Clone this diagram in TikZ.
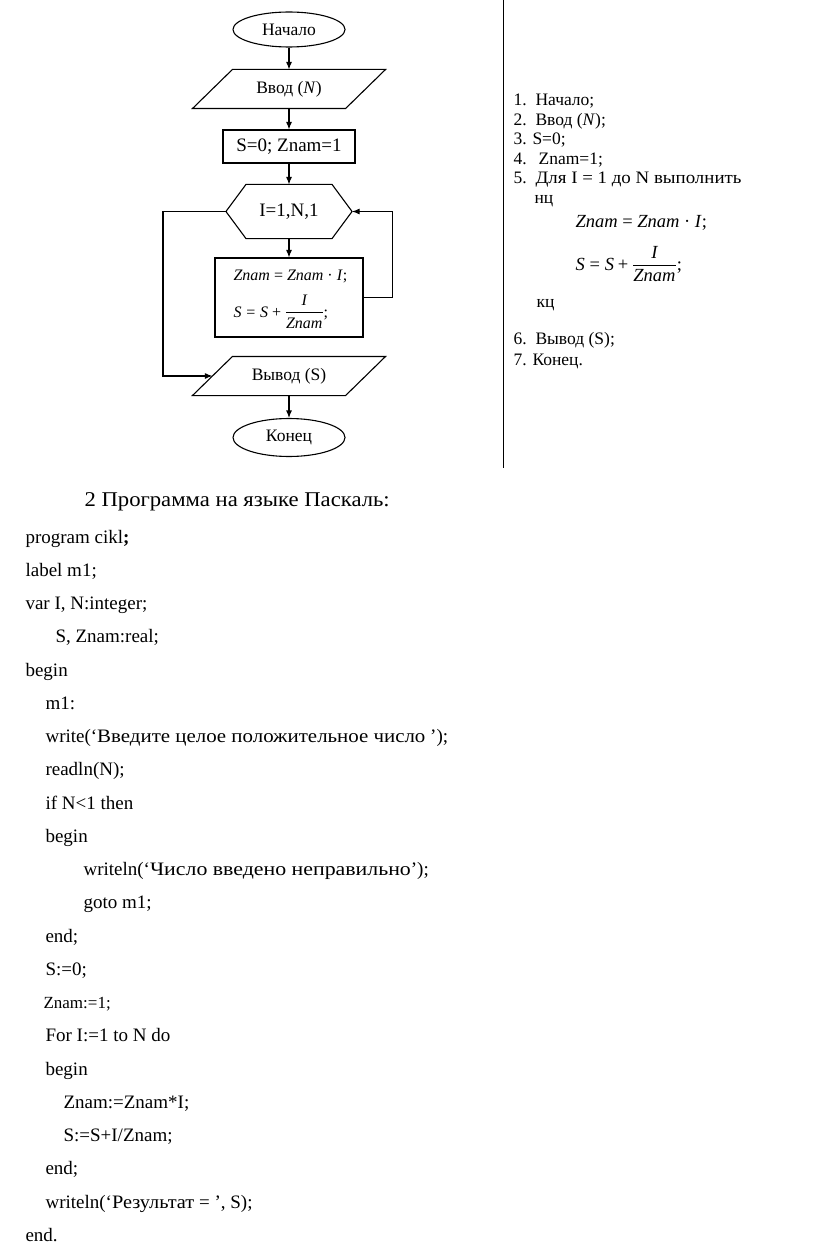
\documentclass[tikz,border=0pt]{standalone}
\usepackage{amsmath}
\usepackage{fontspec}
\setmainfont{Liberation Serif}
\usetikzlibrary{shapes.geometric,arrows.meta}
\newcommand\cyw[2]{{\addfontfeature{FakeStretch=#1}#2}}
\begin{document}
\begin{tikzpicture}[x=1pt,y=-1pt,line width=1.1pt,
  arr/.style={-{Latex[length=7.5pt,width=6pt]}},
  fc/.style={font=\fontsize{17.5}{20}\selectfont, inner sep=0pt},
  term/.style={fc, draw, ellipse, minimum width=112pt, minimum height=35pt},
  io/.style={fc, minimum width=152pt, minimum height=38pt},
  proc/.style={fc, draw, rectangle},
  lst/.style={font=\fontsize{17.5}{20}\selectfont, anchor=base west, inner sep=0pt},
  fml/.style={font=\fontsize{18.5}{22}\selectfont, anchor=base west, inner sep=0pt},
  code/.style={font=\fontsize{19}{22}\selectfont, anchor=base west, inner sep=0pt}]
\useasboundingbox (0,0) rectangle (816,1260);

% ---------- flowchart ----------
\node[term] (start) at (289,29.5) {Начало};
\node[io] (inp) at (289,89) {Ввод (\textit{N})};
\draw ([xshift=-20pt]inp.south west) -- ([xshift=20pt]inp.north west) -- ([xshift=20pt]inp.north east) -- ([xshift=-20pt]inp.south east) -- cycle;
\node[proc, minimum width=132pt, minimum height=33pt, font=\fontsize{19}{22}\selectfont] (init) at (289,146.5) {S=0; Znam=1};
\node[fc, minimum width=125pt, minimum height=53pt, font=\fontsize{19}{22}\selectfont] (loop) at (289,211.5) {I=1,N,1};
\draw (loop.west) -- ([xshift=20pt]loop.north west) -- ([xshift=-20pt]loop.north east) -- (loop.east) -- ([xshift=-20pt]loop.south east) -- ([xshift=20pt]loop.south west) -- cycle;
\node[proc, minimum width=148pt, minimum height=79pt] (body) at (289,297.5) {};
\node[fml, font=\fontsize{16}{18}\selectfont] (f1) at (233,280) {\textit{Znam} = \textit{Znam} · \textit{I};};
\node[fml, font=\fontsize{16}{18}\selectfont] (f2) at (233,317) {$\textit{S}\mathrel{\text{=}}\textit{S}\mathbin{\text{+}}\dfrac{\textit{I}}{\textit{Znam}}$;};
\node[io] (out) at (289,376) {Вывод (S)};
\draw ([xshift=-20pt]out.south west) -- ([xshift=20pt]out.north west) -- ([xshift=20pt]out.north east) -- ([xshift=-20pt]out.south east) -- cycle;
\node[term, minimum height=38pt] (end) at (289,437.5) {Конец};

\draw[arr] (start.south) -- (inp.north);
\draw[arr] (inp.south) -- (init.north);
\draw[arr] (init.south) -- (loop.north);
\draw[arr] (loop.south) -- (body.north);
\draw[arr] (body.east) -- ++(29,0) |- (loop.east);
\draw[arr] (loop.west) -- ++(-63,0) |- (out.west);
\draw[arr] (out.south) -- (end.north);

% divider
\coordinate (dtop) at (503,0);
\coordinate (dbot) at (503,468);
\draw[line width=1pt] (dtop) -- (dbot);

% ---------- right list ----------
\node[lst] (n1) at (513,106) {1.};
\node[lst] (t1) at (535,106) {Начало;};
\node[lst] (n2) at (513,125.5) {2.};
\node[lst] (t2) at (535,125.5) {Ввод (\textit{N});};
\node[lst] (t3) at (513,145) {3. S=0;};
\node[lst] (n4) at (513,164.5) {4.};
\node[lst] (t4) at (538,164.5) {Znam=1;};
\node[lst] (n5) at (513,184) {5.};
\node[lst] (t5) at (535,184) {\cyw{1.08}{Для I = 1 до N выполнить}};
\node[lst] (nc) at (534,203.5) {нц};
\node[fml] (r1) at (575,227) {\textit{Znam} = \textit{Znam} · \textit{I};};
\node[fml] (r2) at (575,270) {$\textit{S}\mathrel{\text{=}}\textit{S}\mathbin{\text{+}}\dfrac{\textit{I}}{\textit{Znam}}$;};
\node[lst] (kc) at (536,307) {кц};
\node[lst] (n6) at (513,344) {6.};
\node[lst] (t6) at (535,344) {Вывод (S);};
\node[lst] (t7) at (513,365) {7. Конец.};

% ---------- program ----------
\node[code, font=\fontsize{21}{24}\selectfont] (title) at (84,506) {\cyw{1.08}{2 Программа на языке Паскаль:}};
\node[code] (c0) at (25,543) {program cikl\textbf{;}};
\node[code] (c1) at (25,576.25) {label m1;};
\node[code] (c2) at (25,609.5) {var I, N:integer;};
\node[code] (c3) at (55,642.75) {S, Znam:real;};
\node[code] (c4) at (25,676) {begin};
\node[code] (c5) at (45,709.25) {m1:};
\node[code] (c6) at (45,742.5) {write(‘\cyw{1.1}{Введите целое положительное число} ’);};
\node[code] (c7) at (45,775.75) {readln(N);};
\node[code] (c8) at (45,809) {if N<1 then};
\node[code] (c9) at (45,842.25) {begin};
\node[code] (c10) at (83,875.5) {writeln(‘\cyw{1.15}{Число введено неправильно}’);};
\node[code] (c11) at (83,908.75) {goto m1;};
\node[code] (c12) at (45,942) {end;};
\node[code] (c13) at (45,975.25) {S:=0;};
\node[code, font=\fontsize{17}{20}\selectfont] (c14) at (43,1008.5) {Znam:=1;};
\node[code] (c15) at (45,1041.75) {For I:=1 to N do};
\node[code] (c16) at (45,1075) {begin};
\node[code] (c17) at (63,1108.25) {Znam:=Znam*I;};
\node[code] (c18) at (63,1141.5) {S:=S+I/Znam;};
\node[code] (c19) at (45,1174.75) {end;};
\node[code] (c20) at (45,1208) {writeln(‘\cyw{1.07}{Результат} = ’, S);};
\node[code] (c21) at (25,1241.25) {end.};
\end{tikzpicture}
\end{document}
